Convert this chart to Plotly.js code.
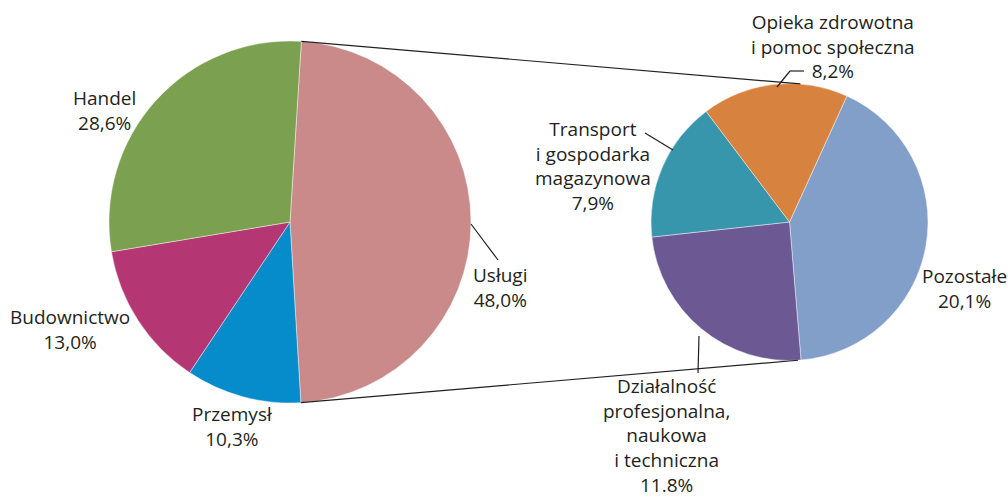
<!DOCTYPE html>
<html>
<head>
<meta charset="utf-8">
<script src="https://cdn.plot.ly/plotly-3.0.1.min.js"></script>
<style>html,body{margin:0;padding:0;background:#fff;}#chart{width:1008px;height:497px;}</style>
</head>
<body>
<div id="chart"></div>
<script>
// ---- data ----
const mainLabels = ['Usługi', 'Przemysł', 'Budownictwo', 'Handel'];
const mainValues = [48.0, 10.3, 13.0, 28.6];
const mainColors = ['#C98A89', '#078CCB', '#B43672', '#7BA050'];

const subLabels = ['Pozostałe', 'Działalność<br>profesjonalna,<br>naukowa<br>i techniczna', 'Transport<br>i gospodarka<br>magazynowa', 'Opieka zdrowotna<br>i pomoc społeczna'];
const subValues = [20.1, 11.8, 7.9, 8.2];
const subColors = ['#829FC9', '#6C5892', '#3795AC', '#D8823F'];
const subDecimalMark = [',', '.', ',', ','];

// ---- geometry helpers ----
const W = 1008, H = 497;
const px = x => x / W;
const py = y => 1 - y / H;

const main = {cx: 290, cy: 222, r: 181};
const sub = {cx: 789.5, cy: 222, r: 138.5};
const mainRotation = 3.6;
const subRotation = 24.5;

function domainOf(p) {
  return {x: [px(p.cx - p.r), px(p.cx + p.r)], y: [py(p.cy + p.r), py(p.cy - p.r)]};
}
function pt(p, deg) {
  const a = deg * Math.PI / 180;
  return [p.cx + p.r * Math.sin(a), p.cy - p.r * Math.cos(a)];
}
function fmt(v, mark) {
  return v.toFixed(1).replace('.', mark || ',') + '%';
}

const sliceLine = {color: 'rgba(255,255,255,0.55)', width: 0.8};

const traces = [
  {
    type: 'pie', labels: mainLabels, values: mainValues, sort: false,
    direction: 'clockwise', rotation: mainRotation,
    marker: {colors: mainColors, line: sliceLine},
    textinfo: 'none', hoverinfo: 'label+percent', showlegend: false,
    domain: domainOf(main)
  },
  {
    type: 'pie', labels: subLabels, values: subValues, sort: false,
    direction: 'clockwise', rotation: subRotation,
    marker: {colors: subColors, line: sliceLine},
    textinfo: 'none', hoverinfo: 'percent', showlegend: false,
    domain: domainOf(sub)
  }
];

// label positions (pixel centres of text blocks)
const mainLabelPos = [[500, 287], [232, 426], [70, 329], [104, 110]];
const subLabelPos = [[964, 288], [666, 435], [593, 166], [833, 47]];

const font = {family: '"Open Sans", "Noto Sans", sans-serif', size: 19, color: '#231F20'};
const annotations = [];
mainLabels.forEach((l, i) => {
  annotations.push({xref: 'paper', yref: 'paper', x: px(mainLabelPos[i][0]), y: py(mainLabelPos[i][1]),
    text: l + '<br>' + fmt(mainValues[i]), showarrow: false, font: font, align: 'center',
    xanchor: 'center', yanchor: 'middle'});
});
subLabels.forEach((l, i) => {
  annotations.push({xref: 'paper', yref: 'paper', x: px(subLabelPos[i][0]), y: py(subLabelPos[i][1]),
    text: l + '<br>' + fmt(subValues[i], subDecimalMark[i]), showarrow: false, font: font, align: 'center',
    xanchor: 'center', yanchor: 'middle'});
});

// connector lines between pies
const mainStart = mainRotation;
const mainEnd = mainRotation + 360 * mainValues[0] / mainValues.reduce((a, b) => a + b, 0);
const a1 = pt(main, mainStart), a2 = pt(main, mainEnd);
const b1 = pt(sub, 4.5), b2 = pt(sub, 176.5);
const lineStyle = {color: '#231F20', width: 1.2};
function seg(p, q) {
  return {type: 'line', xref: 'paper', yref: 'paper', x0: px(p[0]), y0: py(p[1]), x1: px(q[0]), y1: py(q[1]), line: lineStyle};
}
const shapes = [
  seg(a1, b1), seg(a2, b2),
  // leader lines
  seg([471, 224], [498, 260]),
  seg([645, 133], [673, 150]),
  seg([777, 87], [790, 71]), seg([790, 71], [804, 71]),
  seg([699, 336], [698, 373])
];

const layout = {
  width: W, height: H,
  margin: {l: 0, r: 0, t: 0, b: 0},
  paper_bgcolor: '#fff', plot_bgcolor: '#fff',
  showlegend: false,
  annotations: annotations,
  shapes: shapes
};

Plotly.newPlot('chart', traces, layout, {displayModeBar: false, staticPlot: true});
</script>
</body>
</html>
